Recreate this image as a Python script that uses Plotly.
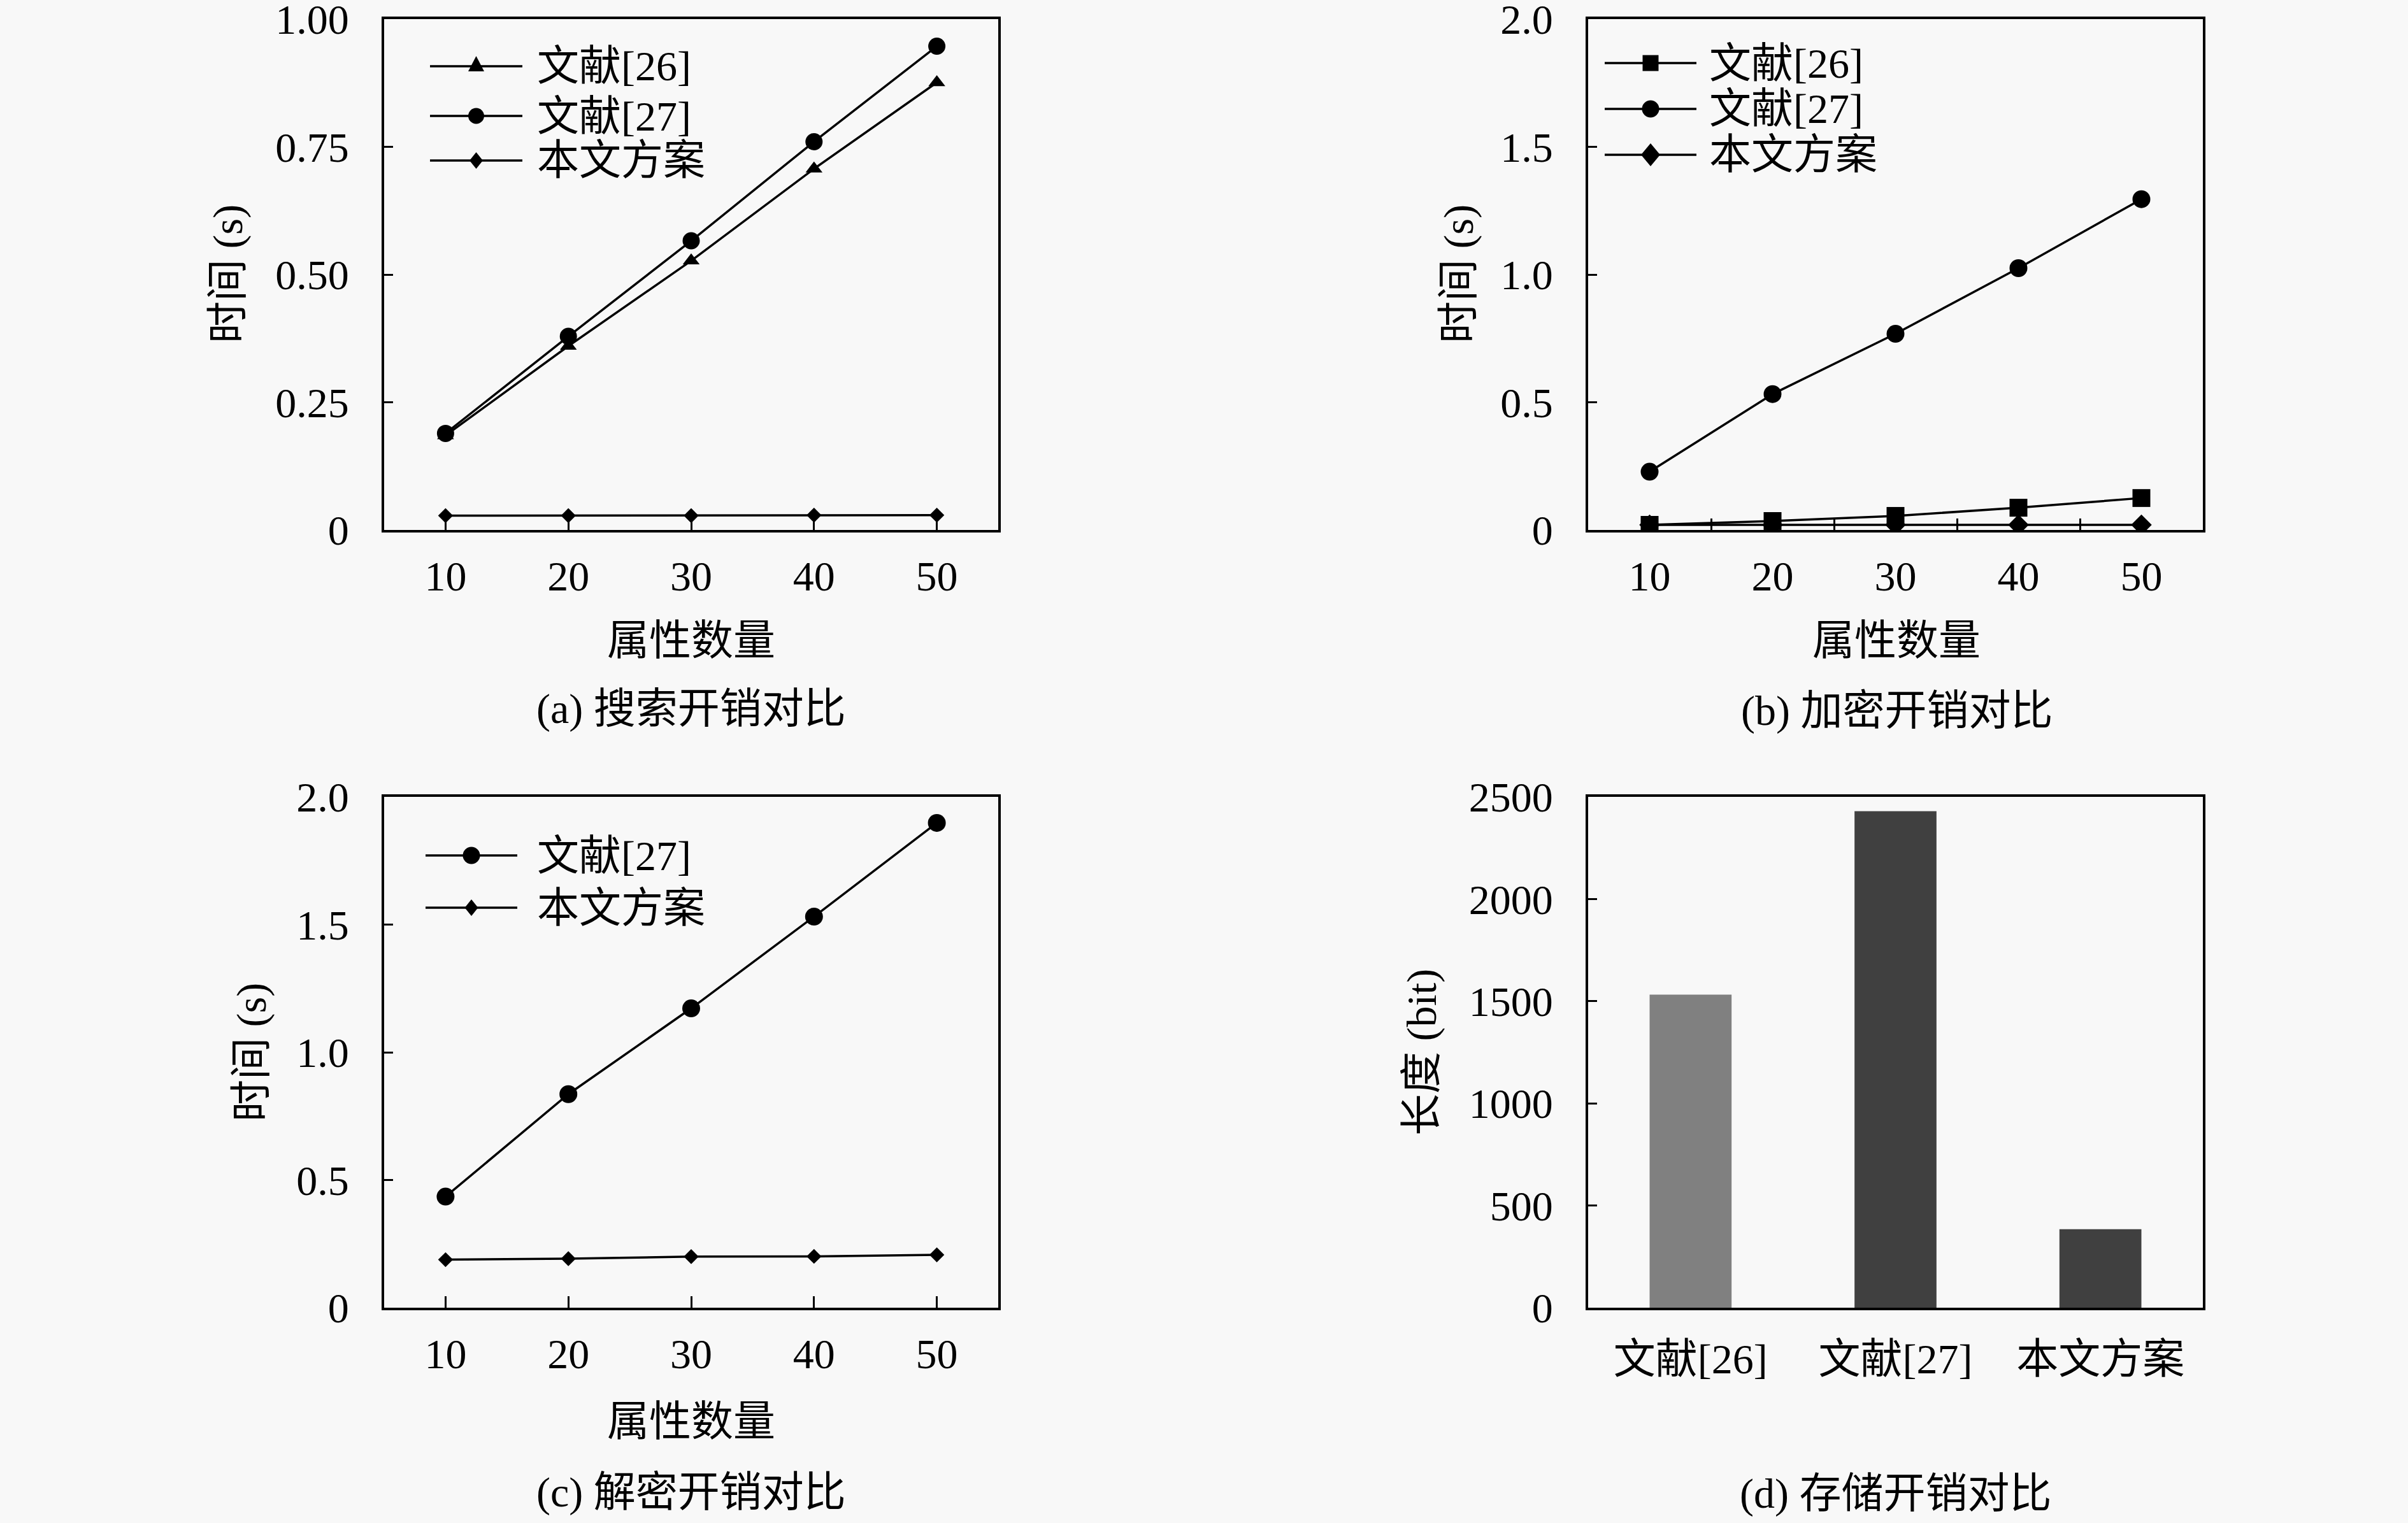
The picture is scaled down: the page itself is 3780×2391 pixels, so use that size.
import plotly.graph_objects as go

# 数据
attr_num = [10, 20, 30, 40, 50]

search_26 = [0.185, 0.36, 0.527, 0.707, 0.876]
search_27 = [0.189, 0.379, 0.566, 0.76, 0.947]
search_ours = [0.028, 0.028, 0.028, 0.029, 0.029]

enc_26 = [0.02, 0.035, 0.055, 0.087, 0.125]
enc_27 = [0.228, 0.532, 0.768, 1.025, 1.295]
enc_ours = [0.02, 0.02, 0.02, 0.02, 0.02]

dec_27 = [0.435, 0.836, 1.172, 1.531, 1.898]
dec_ours = [0.188, 0.192, 0.2, 0.201, 0.207]

store_names = ["文献[26]", "文献[27]", "本文方案"]
store_bits = [1532, 2430, 384]
store_colors = ["#808080", "#404040", "#404040"]

W, H = 3780, 2391
FONT = "Liberation Serif, Noto Sans CJK SC"
FS = 66
BG = "#f8f8f8"


def fx(v):
    return v / W


def fy(v):
    return 1 - v / H


fig = go.Figure()

line_style = dict(color="black", width=3.5)

# (a) 搜索开销
fig.add_trace(go.Scatter(x=attr_num, y=search_26, mode="lines+markers", line=line_style,
                         marker=dict(symbol="triangle-up", size=23, color="black"),
                         xaxis="x", yaxis="y", showlegend=False))
fig.add_trace(go.Scatter(x=attr_num, y=search_27, mode="lines+markers", line=line_style,
                         marker=dict(symbol="circle", size=27, color="black"),
                         xaxis="x", yaxis="y", showlegend=False))
fig.add_trace(go.Scatter(x=attr_num, y=search_ours, mode="lines+markers", line=line_style,
                         marker=dict(symbol="diamond", size=18, color="black"),
                         xaxis="x", yaxis="y", showlegend=False))

# (b) 加密开销
fig.add_trace(go.Scatter(x=attr_num, y=enc_26, mode="lines+markers", line=line_style,
                         marker=dict(symbol="square", size=28, color="black"),
                         xaxis="x2", yaxis="y2", showlegend=False))
fig.add_trace(go.Scatter(x=attr_num, y=enc_27, mode="lines+markers", line=line_style,
                         marker=dict(symbol="circle", size=28, color="black"),
                         xaxis="x2", yaxis="y2", showlegend=False))
fig.add_trace(go.Scatter(x=attr_num, y=enc_ours, mode="lines+markers", line=line_style,
                         marker=dict(symbol="diamond", size=25, color="black"),
                         xaxis="x2", yaxis="y2", showlegend=False))

# (c) 解密开销
fig.add_trace(go.Scatter(x=attr_num, y=dec_27, mode="lines+markers", line=line_style,
                         marker=dict(symbol="circle", size=28, color="black"),
                         xaxis="x3", yaxis="y3", showlegend=False))
fig.add_trace(go.Scatter(x=attr_num, y=dec_ours, mode="lines+markers", line=line_style,
                         marker=dict(symbol="diamond", size=18, color="black"),
                         xaxis="x3", yaxis="y3", showlegend=False))

# (d) 存储开销
fig.add_trace(go.Bar(x=store_names, y=store_bits, marker=dict(color=store_colors, line=dict(width=0)),
                     width=0.4, xaxis="x4", yaxis="y4", showlegend=False))

dom_x_left = [603 / W, 1567 / W]
dom_x_right = [2493 / W, 3458 / W]
dom_y_top = [1 - 832 / H, 1 - 30 / H]
dom_y_bot = [1 - 2053 / H, 1 - 1251 / H]

frame = dict(showline=True, linecolor="black", linewidth=4, mirror=True, automargin=False,
             ticklabeloverflow="allow",
             showgrid=False, zeroline=False, tickcolor="black", tickwidth=3,
             tickfont=dict(family=FONT, size=FS, color="black"))

xnum = dict(frame, range=[5, 55], tickvals=attr_num, ticks="inside", ticklen=18,
            ticklabelstandoff=12)

fig.update_layout(
    xaxis=dict(xnum, domain=dom_x_left, anchor="y"),
    yaxis=dict(frame, domain=dom_y_top, anchor="x", range=[0, 1],
               tickvals=[0, 0.25, 0.5, 0.75, 1.0],
               ticktext=["0", "0.25", "0.50", "0.75", "1.00"],
               ticks="inside", ticklen=14, ticklabelstandoff=38),
    xaxis2=dict(xnum, domain=dom_x_right, anchor="y2", ticks="",
                minor=dict(tickvals=[15, 25, 35, 45], ticks="inside", ticklen=18,
                           tickwidth=3, tickcolor="black")),
    yaxis2=dict(frame, domain=dom_y_top, anchor="x2", range=[0, 2],
                tickvals=[0, 0.5, 1.0, 1.5, 2.0],
                ticktext=["0", "0.5", "1.0", "1.5", "2.0"],
                ticks="inside", ticklen=14, ticklabelstandoff=38),
    xaxis3=dict(xnum, domain=dom_x_left, anchor="y3"),
    yaxis3=dict(frame, domain=dom_y_bot, anchor="x3", range=[0, 2],
                tickvals=[0, 0.5, 1.0, 1.5, 2.0],
                ticktext=["0", "0.5", "1.0", "1.5", "2.0"],
                ticks="inside", ticklen=14, ticklabelstandoff=38),
    xaxis4=dict(frame, domain=dom_x_right, anchor="y4", range=[-0.5, 2.5],
                ticks="", ticklabelstandoff=20),
    yaxis4=dict(frame, domain=dom_y_bot, anchor="x4", range=[0, 2500],
                tickvals=[0, 500, 1000, 1500, 2000, 2500],
                ticks="inside", ticklen=14, ticklabelstandoff=38),
    width=W, height=H,
    margin=dict(l=0, r=0, t=0, b=0, autoexpand=False),
    paper_bgcolor=BG, plot_bgcolor=BG,
    font=dict(family=FONT, size=FS, color="black"),
)

annos = []
shapes = []


def text(x, y, s, angle=0, xanchor="center"):
    annos.append(dict(x=fx(x), y=fy(y), xref="paper", yref="paper", text=s,
                      showarrow=False, textangle=angle, xanchor=xanchor, yanchor="middle",
                      font=dict(family=FONT, size=FS, color="black")))


# 坐标轴标题
text(358, 430, "时间 (s)", angle=-90)
text(2290, 430, "时间 (s)", angle=-90)
text(395, 1652, "时间 (s)", angle=-90)
text(2232, 1652, "长度 (bit)", angle=-90)
text(1085, 1005, "属性数量")
text(2977, 1005, "属性数量")
text(1085, 2231, "属性数量")

# 子图标题
text(1085, 1113, "(a) 搜索开销对比")
text(2977, 1116, "(b) 加密开销对比")
text(1085, 2343, "(c) 解密开销对比")
text(2975, 2345, "(d) 存储开销对比")


# 图例
def legend_marker(kind, cx, cy, w, h):
    if kind == "circle":
        shapes.append(dict(type="circle", xref="paper", yref="paper",
                           x0=fx(cx - w / 2), x1=fx(cx + w / 2), y0=fy(cy + h / 2), y1=fy(cy - h / 2),
                           fillcolor="black", line=dict(width=0)))
    elif kind == "square":
        shapes.append(dict(type="rect", xref="paper", yref="paper",
                           x0=fx(cx - w / 2), x1=fx(cx + w / 2), y0=fy(cy + h / 2), y1=fy(cy - h / 2),
                           fillcolor="black", line=dict(width=0)))
    elif kind == "triangle":
        p = "M{},{} L{},{} L{},{} Z".format(fx(cx - w / 2), fy(cy + h / 3), fx(cx + w / 2), fy(cy + h / 3),
                                            fx(cx), fy(cy - 2 * h / 3))
        shapes.append(dict(type="path", xref="paper", yref="paper", path=p,
                           fillcolor="black", line=dict(width=0)))
    else:
        p = "M{},{} L{},{} L{},{} L{},{} Z".format(fx(cx - w / 2), fy(cy), fx(cx), fy(cy - h / 2),
                                                   fx(cx + w / 2), fy(cy), fx(cx), fy(cy + h / 2))
        shapes.append(dict(type="path", xref="paper", yref="paper", path=p,
                           fillcolor="black", line=dict(width=0)))


def legend_row(x0, x1, y, kind, w, h, label, tx):
    shapes.append(dict(type="line", xref="paper", yref="paper",
                       x0=fx(x0), x1=fx(x1), y0=fy(y), y1=fy(y),
                       line=dict(color="black", width=3.5)))
    legend_marker(kind, (x0 + x1) / 2, y, w, h)
    text(tx, y, label, xanchor="left")


legend_row(675, 820, 104, "triangle", 25, 24, "文献[26]", 841)
legend_row(675, 820, 182, "circle", 25, 25, "文献[27]", 841)
legend_row(675, 820, 252, "diamond", 21, 26, "本文方案", 841)

legend_row(2519, 2663, 99, "square", 25, 25, "文献[26]", 2681)
legend_row(2519, 2663, 171, "circle", 27, 27, "文献[27]", 2681)
legend_row(2519, 2663, 243, "diamond", 30, 36, "本文方案", 2681)

legend_row(668, 812, 1343, "circle", 27, 27, "文献[27]", 841)
legend_row(668, 812, 1425, "diamond", 21, 26, "本文方案", 841)

fig.update_layout(annotations=annos, shapes=shapes)

fig.write_html("out.html", config={"displayModeBar": False},
               post_script="document.body.style.margin = '0';")
